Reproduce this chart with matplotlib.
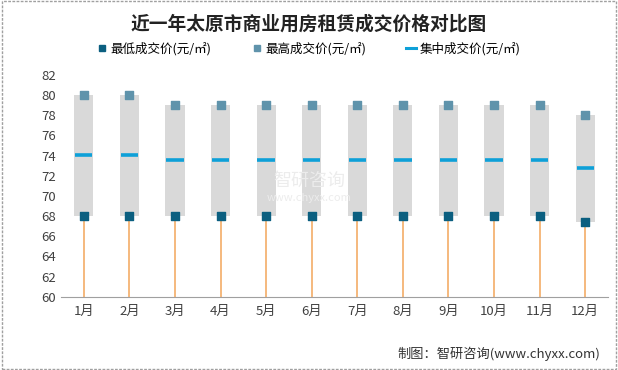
import matplotlib
matplotlib.use("Agg")
import matplotlib.pyplot as plt
from matplotlib.patches import Rectangle
from matplotlib.lines import Line2D

plt.rcParams['font.family'] = ['Noto Sans CJK SC', 'DejaVu Sans']

months = ["1月", "2月", "3月", "4月", "5月", "6月", "7月", "8月", "9月", "10月", "11月", "12月"]
low = [68, 68, 68, 68, 68, 68, 68, 68, 68, 68, 68, 67.4]
high = [80, 80, 79, 79, 79, 79, 79, 79, 79, 79, 79, 78]
mid = [74.1, 74.1, 73.6, 73.6, 73.6, 73.6, 73.6, 73.6, 73.6, 73.6, 73.6, 72.8]

C_LOW = "#0b5f80"
C_HIGH = "#5f93ab"
C_MID = "#0ea0d8"
C_BOX = "#d9d9d9"
C_DROP = "#f2a65a"

fig = plt.figure(figsize=(6.18, 3.70), dpi=100)
ax = fig.add_axes([61 / 618, 1 - 296.7 / 370, 547 / 618, (296.7 - 75) / 370])

x = list(range(len(months)))
w = 0.42
for i in x:
    ax.vlines(i, 60, low[i], color=C_DROP, lw=1.1, zorder=1)
    ax.add_patch(Rectangle((i - w / 2, low[i]), w, high[i] - low[i],
                           facecolor=C_BOX, edgecolor="none", zorder=2))
    ax.hlines(mid[i], i - w / 2 + 0.02, i + w / 2 - 0.02, color=C_MID, lw=2.6, zorder=3)
ax.scatter(x, low, marker="s", s=28, color=C_LOW, zorder=4)
ax.scatter(x, high, marker="s", s=28, color=C_HIGH, zorder=4)

ax.set_xlim(-0.5, len(months) - 0.5)
ax.set_ylim(60, 82)
ax.set_yticks(range(60, 83, 2))
ax.set_xticks(x)
ax.set_xticklabels(months)
ax.tick_params(axis="both", length=0, labelsize=9.5, colors="#404040")
ax.tick_params(axis="x", pad=6)
for s in ["top", "right", "left"]:
    ax.spines[s].set_visible(False)
ax.spines["bottom"].set_color("#a0a0a0")

fig.text(0.5, 0.935, "近一年太原市商业用房租赁成交价格对比图", ha="center", va="center",
         fontsize=13.5, fontweight="bold", color="#222222")

handles = [
    Line2D([], [], marker="s", ls="none", color=C_LOW, markersize=5),
    Line2D([], [], marker="s", ls="none", color=C_HIGH, markersize=5),
    Line2D([], [], color=C_MID, lw=2.2),
]
labels = ["最低成交价(元/㎡)", "最高成交价(元/㎡)", "集中成交价(元/㎡)"]
fig.legend(handles, labels, loc="center", bbox_to_anchor=(0.5, 0.868), ncol=3,
           frameon=False, fontsize=9, handlelength=0.8, handletextpad=0.3,
           columnspacing=3.2)

# faint watermark in the middle
fig.text(0.5, 0.51, "智研咨询", ha="center", va="center",
         fontsize=13, color="#ececec", zorder=0)
fig.text(0.5, 0.465, "www.chyxx.com", ha="center", va="center",
         fontsize=8, color="#ececec", zorder=0)
fig.text(0.972, 0.045, "制图：智研咨询(www.chyxx.com)", ha="right", va="center",
         fontsize=9.5, color="#333333")

fig.patches.append(Rectangle((0.003, 0.003), 0.994, 0.994, transform=fig.transFigure,
                             fill=False, edgecolor="#a0a0a0", lw=1, ls=(0, (2, 1))))

fig.savefig("out.png", dpi=100)
